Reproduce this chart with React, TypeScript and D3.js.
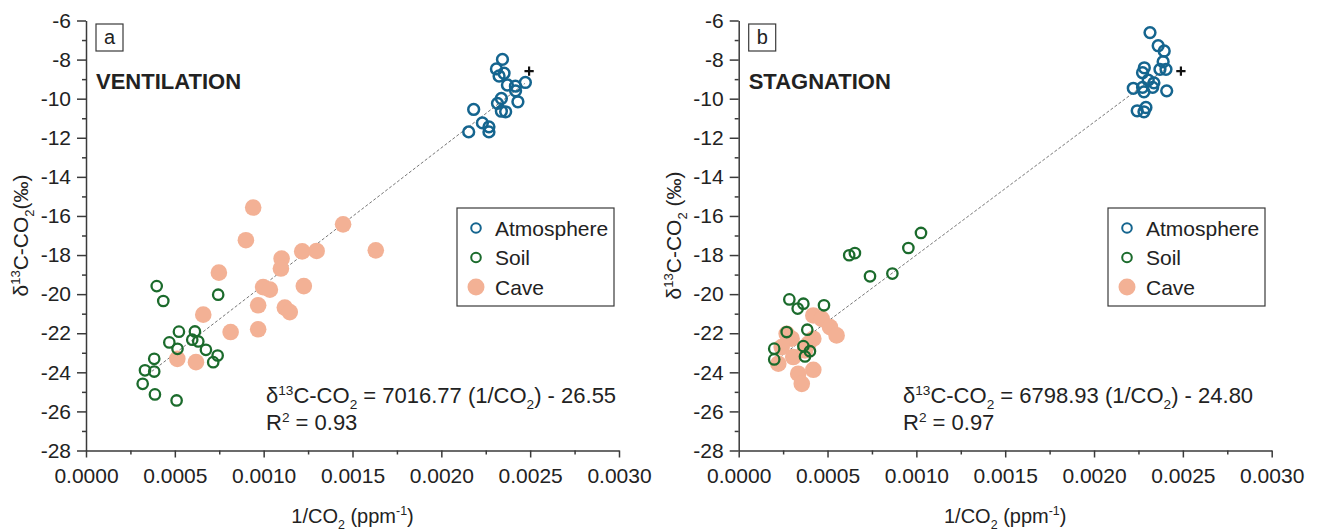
import { useEffect, useRef } from "react"
import * as d3 from "d3"

// panel a (ventilation) — [1/CO2, d13C]
const atmA = [
  [0.002344, -7.99], [0.00231, -8.48], [0.002325, -8.84], [0.002353, -8.7],
  [0.002372, -9.3], [0.002417, -9.36], [0.002418, -9.6], [0.002473, -9.17],
  [0.002431, -10.16], [0.002316, -10.24], [0.002338, -9.99], [0.002338, -10.64],
  [0.002362, -10.67], [0.002182, -10.55], [0.002231, -11.24], [0.002268, -11.44],
  [0.002268, -11.7], [0.002154, -11.7],
]
const soilA = [
  [0.000398, -19.59], [0.000435, -20.35], [0.000744, -20.03], [0.000523, -21.92],
  [0.000613, -21.91], [0.000469, -22.47], [0.000598, -22.33], [0.000632, -22.42],
  [0.000515, -22.8], [0.000675, -22.85], [0.000741, -23.14], [0.000716, -23.48],
  [0.000384, -23.31], [0.000332, -23.9], [0.000384, -23.96], [0.000319, -24.59],
  [0.000388, -25.13], [0.00051, -25.44],
]
const caveA = [
  [0.000941, -15.57], [0.001447, -16.43], [0.0009, -17.24], [0.001217, -17.81],
  [0.001298, -17.79], [0.001101, -18.18], [0.001097, -18.69], [0.000748, -18.9],
  [0.000997, -19.64], [0.001035, -19.77], [0.001226, -19.59], [0.000969, -20.57],
  [0.001119, -20.69], [0.001147, -20.92], [0.00066, -21.05], [0.000814, -21.94],
  [0.000969, -21.8], [0.000514, -23.31], [0.000619, -23.48], [0.001631, -17.76],
]

// panel b (stagnation)
const atmB = [
  [0.002315, -6.62], [0.002361, -7.29], [0.002395, -7.56], [0.002389, -8.11],
  [0.002371, -8.5], [0.002405, -8.5], [0.002283, -8.42], [0.002273, -8.67],
  [0.002337, -9.19], [0.002305, -9.05], [0.00233, -9.42], [0.002273, -9.42],
  [0.002221, -9.47], [0.002281, -9.65], [0.002409, -9.6], [0.002292, -10.45],
  [0.002243, -10.62], [0.002281, -10.67],
]
const soilB = [
  [0.001026, -16.87], [0.000955, -17.64], [0.000654, -17.9], [0.000622, -18.01],
  [0.000865, -18.95], [0.000739, -19.09], [0.000285, -20.27], [0.000364, -20.49],
  [0.000332, -20.74], [0.00048, -20.57], [0.000386, -21.82], [0.00027, -21.94],
  [0.000364, -22.66], [0.000401, -22.92], [0.000373, -23.19], [0.0002, -22.79],
  [0.0002, -23.34],
]
const caveB = [
  [0.00042, -21.09], [0.000467, -21.26], [0.000514, -21.69], [0.000551, -22.11],
  [0.00027, -22.03], [0.000298, -22.28], [0.00042, -22.28], [0.000242, -22.71],
  [0.000307, -23.22], [0.000223, -23.56], [0.000392, -22.54], [0.00042, -23.87],
  [0.000335, -24.07], [0.000355, -24.59], [0.000373, -22.88],
]

const xMajor = [0, 0.0005, 0.001, 0.0015, 0.002, 0.0025, 0.003]
const xMinor = [0.00025, 0.00075, 0.00125, 0.00175, 0.00225, 0.00275]
const yMajor = [-6, -8, -10, -12, -14, -16, -18, -20, -22, -24, -26, -28]
const yMinor = [-7, -9, -11, -13, -15, -17, -19, -21, -23, -25, -27]
const legendItems = ["Atmosphere", "Soil", "Cave"]

const panels = [
  {
    tag: "a", title: "VENTILATION", left: 86, right: 619, atm: atmA, soil: soilA, cave: caveA,
    slope: 7016.77, icpt: -26.55, fitFrom: 0.00037, fitTo: 0.00247, r2: "0.93",
    plus: [0.002494, -8.59], legendX: 457, eqX: 266, yLabel: "(‰)",
  },
  {
    tag: "b", title: "STAGNATION", left: 738.7, right: 1271.7, atm: atmB, soil: soilB, cave: caveB,
    slope: 6798.93, icpt: -24.8, fitFrom: 0.0002, fitTo: 0.00241, r2: "0.97",
    plus: [0.002489, -8.59], legendX: 1108, eqX: 903, yLabel: " (‰)",
  },
]

const FONT = "'Liberation Sans', Arial, sans-serif"
const INK = "#222"
const AXIS = "#3a3a3a"
const BLUE = "#15658f"
const GREEN = "#1b6b2c"
const SALMON = "#f3b195"

// text with sub/superscripts: parts = [text, "sup"|"sub"|""]
function rich(sel, parts, size) {
  let cur = 0
  parts.forEach(([t, k]) => {
    const target = k === "sup" ? -size * 0.38 : k === "sub" ? size * 0.28 : 0
    const ts = sel.append("tspan").text(t).attr("dy", target - cur)
    if (k) ts.attr("font-size", size * 0.62)
    cur = target
  })
}

export default function App() {
  const svgRef = useRef(null)

  useEffect(() => {
    const svg = d3.select(svgRef.current)
    svg.selectAll("*").remove()

    const y = d3.scaleLinear().domain([-28, -6]).range([450.5, 20.5])

    panels.forEach(p => {
      const x = d3.scaleLinear().domain([0, 0.003]).range([p.left, p.right])
      const g = svg.append("g").attr("font-family", FONT)

      // axes
      const xa = g.append("g").attr("transform", `translate(0,${y(-28)})`)
      xa.call(d3.axisBottom(x).tickValues(xMajor).tickSize(7).tickSizeOuter(0).tickFormat(d3.format(".4f")))
      xa.append("g").call(d3.axisBottom(x).tickValues(xMinor).tickSize(4).tickFormat(() => ""))
        .select(".domain").remove()

      const ya = g.append("g").attr("transform", `translate(${p.left},0)`)
      ya.call(d3.axisLeft(y).tickValues(yMajor).tickSize(9).tickSizeOuter(0).tickPadding(6)
        .tickFormat(d => String(d)))
      ya.append("g").call(d3.axisLeft(y).tickValues(yMinor).tickSize(4).tickFormat(() => ""))
        .select(".domain").remove()

      g.selectAll(".domain, .tick line").attr("stroke", AXIS).attr("stroke-width", 1.5)
      g.selectAll(".tick text").attr("font-family", FONT).attr("font-size", 21).attr("fill", INK)
      xa.selectAll(".tick text").attr("dy", "1.05em")

      // axis titles
      const xt = g.append("text").attr("x", (p.left + p.right) / 2).attr("y", 523)
        .attr("text-anchor", "middle").attr("font-size", 20).attr("fill", INK)
      rich(xt, [["1/CO", ""], ["2", "sub"], [" (ppm", ""], ["-1", "sup"], [")", ""]], 20)

      const yt = g.append("text")
        .attr("transform", `translate(${p.left - 58},${y(-17)}) rotate(-90)`)
        .attr("text-anchor", "middle").attr("font-size", 21).attr("fill", INK)
      rich(yt, [["δ", ""], ["13", "sup"], ["C-CO", ""], ["2", "sub"], [p.yLabel, ""]], 21)

      // panel tag + title
      g.append("rect").attr("x", p.left + 10).attr("y", 24).attr("width", 27).attr("height", 27)
        .attr("fill", "none").attr("stroke", AXIS).attr("stroke-width", 1.2)
      g.append("text").attr("x", p.left + 23.5).attr("y", 44).attr("text-anchor", "middle")
        .attr("font-size", 20).attr("fill", INK).text(p.tag)
      g.append("text").attr("x", p.left + 10).attr("y", 89).attr("font-size", 22)
        .attr("font-weight", "bold").attr("fill", INK).text(p.title)

      // regression line
      g.append("line")
        .attr("x1", x(p.fitFrom)).attr("y1", y(p.slope * p.fitFrom + p.icpt))
        .attr("x2", x(p.fitTo)).attr("y2", y(p.slope * p.fitTo + p.icpt))
        .attr("stroke", "#777").attr("stroke-width", 1).attr("stroke-dasharray", "3,2")

      // points
      g.append("g").selectAll("circle").data(p.cave).join("circle")
        .attr("cx", d => x(d[0])).attr("cy", d => y(d[1])).attr("r", 8.3).attr("fill", SALMON)
      g.append("g").selectAll("circle").data(p.soil).join("circle")
        .attr("cx", d => x(d[0])).attr("cy", d => y(d[1])).attr("r", 5.2)
        .attr("fill", "none").attr("stroke", GREEN).attr("stroke-width", 2.3)
      g.append("g").selectAll("circle").data(p.atm).join("circle")
        .attr("cx", d => x(d[0])).attr("cy", d => y(d[1])).attr("r", 5.4)
        .attr("fill", "none").attr("stroke", BLUE).attr("stroke-width", 2.5)

      g.append("path")
        .attr("transform", `translate(${x(p.plus[0])},${y(p.plus[1])})`)
        .attr("d", d3.symbol(d3.symbolPlus, 30)())
        .attr("fill", "none").attr("stroke", "#111").attr("stroke-width", 2.2)

      // equation
      const eq = g.append("text").attr("x", p.eqX).attr("y", 403).attr("font-size", 22).attr("fill", INK)
      rich(eq, [["δ", ""], ["13", "sup"], ["C-CO", ""], ["2", "sub"],
        [` = ${p.slope.toFixed(2)} (1/CO`, ""], ["2", "sub"], [`) - ${Math.abs(p.icpt).toFixed(2)}`, ""]], 22)
      const r2 = g.append("text").attr("x", p.eqX).attr("y", 430).attr("font-size", 22).attr("fill", INK)
      rich(r2, [["R", ""], ["2", "sup"], [` = ${p.r2}`, ""]], 22)

      // legend
      const lg = g.append("g").attr("transform", `translate(${p.legendX},208)`)
      lg.append("rect").attr("width", 157).attr("height", 98)
        .attr("fill", "#fff").attr("stroke", AXIS).attr("stroke-width", 1.2)
      legendItems.forEach((name, i) => {
        const cy = 20 + i * 29.5
        if (i === 2) lg.append("circle").attr("cx", 19).attr("cy", cy).attr("r", 8.5).attr("fill", SALMON)
        else lg.append("circle").attr("cx", 19).attr("cy", cy).attr("r", 4.8)
          .attr("fill", "none").attr("stroke", i === 0 ? BLUE : GREEN).attr("stroke-width", 2)
        lg.append("text").attr("x", 38).attr("y", cy + 7.5).attr("font-size", 21).attr("fill", INK).text(name)
      })
    })
  }, [])

  return (
    <svg ref={svgRef} width={1320} height={532}
      style={{ position: "absolute", left: 0, top: 0, background: "#fff" }} />
  )
}
